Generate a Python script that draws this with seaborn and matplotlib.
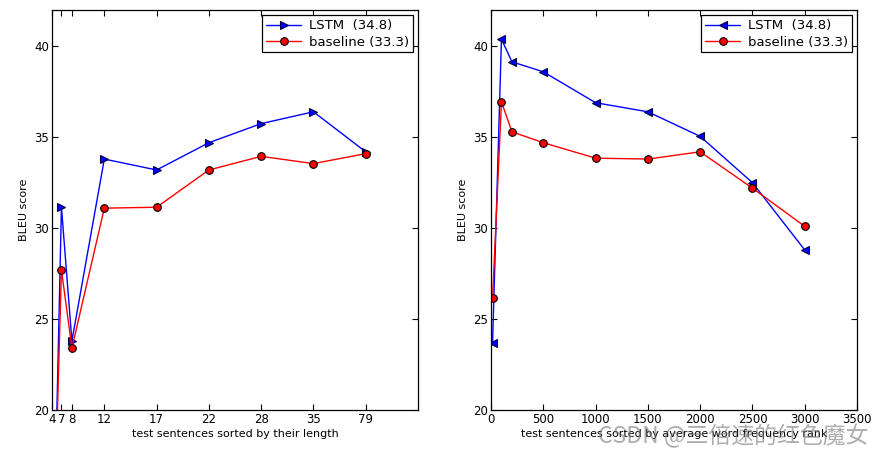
import numpy as np
import pandas as pd
import seaborn as sns
import matplotlib.pyplot as plt

# left panel: sentence length buckets
len_labels = ['4', '7', '8', '12', '17', '22', '28', '35', '79']
len_pos = [0, 0.18, 0.38, 1, 2, 3, 4, 5, 6]
len_lstm = [8.0, 31.15, 23.8, 33.8, 33.2, 34.7, 35.75, 36.4, 34.2]
len_base = [9.5, 27.7, 23.4, 31.1, 31.15, 33.2, 33.95, 33.55, 34.1]

# right panel: average word frequency rank
rank_x = [15, 100, 200, 500, 1000, 1500, 2000, 2500, 3000]
rank_lstm = [23.7, 40.4, 39.15, 38.6, 36.9, 36.4, 35.05, 32.5, 28.8]
rank_base = [26.15, 36.95, 35.3, 34.7, 33.85, 33.8, 34.2, 32.2, 30.1]

lstm_label = 'LSTM  (34.8)'
base_label = 'baseline (33.3)'

sns.set_style('ticks')
plt.rcParams['font.family'] = ['DejaVu Sans']
plt.rcParams['text.color'] = 'black'
plt.rcParams['axes.labelcolor'] = 'black'
plt.rcParams['xtick.color'] = 'black'
plt.rcParams['ytick.color'] = 'black'
plt.rcParams['xtick.direction'] = 'in'
plt.rcParams['ytick.direction'] = 'in'
plt.rcParams['xtick.top'] = True
plt.rcParams['ytick.right'] = True

fig = plt.figure(figsize=(8.85, 4.54), dpi=100)
ax1 = fig.add_axes([0.0588, 0.097, 0.4135, 0.881])
ax2 = fig.add_axes([0.5548, 0.097, 0.4136, 0.881])


def draw(ax, x, lstm, base, lstm_marker):
    sns.lineplot(x=x, y=lstm, ax=ax, sort=False, color='blue', lw=1,
                 marker=lstm_marker, markersize=6, markerfacecolor='blue',
                 markeredgecolor='#000040', markeredgewidth=0.8, label=lstm_label)
    sns.lineplot(x=x, y=base, ax=ax, sort=False, color='red', lw=1,
                 marker='o', markersize=5.5, markerfacecolor='red',
                 markeredgecolor='black', markeredgewidth=0.8, label=base_label)
    ax.set_ylim(20, 42)
    ax.set_yticks([20, 25, 30, 35, 40])
    ax.set_ylabel('BLEU score', fontsize=8)
    ax.tick_params(labelsize=8.5, length=4, width=0.8, pad=2)
    for s in ax.spines.values():
        s.set_linewidth(0.9)
        s.set_color('black')
    leg = ax.legend(loc='upper right', fontsize=9.5, fancybox=False, framealpha=1,
                    edgecolor='black', handlelength=2.6, borderpad=0.3,
                    labelspacing=0.25, handletextpad=0.6, borderaxespad=0.4)
    leg.get_frame().set_linewidth(0.9)


draw(ax1, len_pos, len_lstm, len_base, '>')
ax1.set_xlim(0, 7)
ax1.set_xticks(len_pos)
ax1.set_xticklabels(len_labels)
ax1.set_xlabel('test sentences sorted by their length', fontsize=8, labelpad=2)

draw(ax2, rank_x, rank_lstm, rank_base, '<')
ax2.set_xlim(0, 3500)
ax2.set_xticks(np.arange(0, 3501, 500))
ax2.set_xlabel('test sentences sorted by average word frequency rank', fontsize=8, labelpad=2)

# watermark
fig.text(0.981, 0.012, 'CSDN @三倍速的红色魔女', ha='right', va='bottom', fontsize=16.5,
         color='#777777', alpha=0.6, family=['Noto Sans CJK SC', 'DejaVu Sans'])

fig.savefig('out.png', dpi=100)
